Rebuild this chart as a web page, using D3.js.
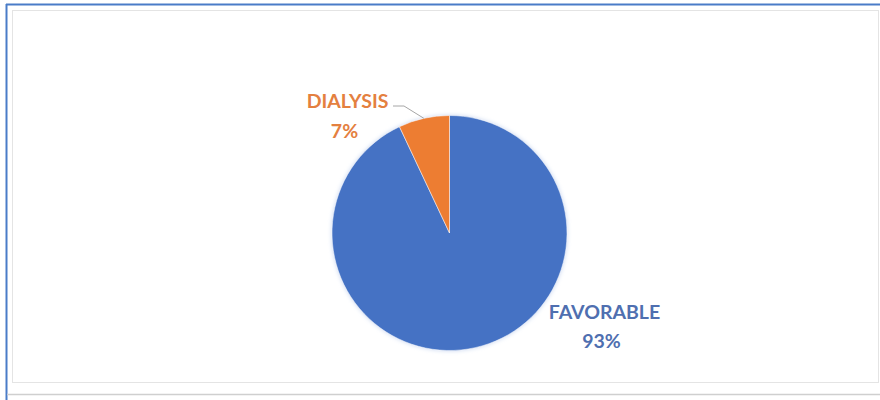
<!DOCTYPE html>
<html>
<head>
<meta charset="utf-8">
<script src="https://cdn.jsdelivr.net/npm/d3@7"></script>
<style>
  html, body { margin: 0; padding: 0; background: #fff; }
  svg { display: block; }
</style>
</head>
<body>
<svg id="chart" width="880" height="400"></svg>
<script>
// Outcome categories and their shares (percent)
const categories = ["FAVORABLE", "DIALYSIS"];
const values = [93, 7];
const colors = ["#4472C4", "#ED7D31"];

const W = 880, H = 400;
const svg = d3.select("#chart");

// Frame: blue outer edge on top/left, light grey chart-area border
svg.append("rect").attr("x", 0).attr("y", 0).attr("width", W).attr("height", H).attr("fill", "#fff");
svg.append("line").attr("x1", 6).attr("x2", 880).attr("y1", 4.5).attr("y2", 4.5)
  .attr("stroke", "#4a7cc8").attr("stroke-width", 2);
svg.append("line").attr("x1", 6.5).attr("x2", 6.5).attr("y1", 4).attr("y2", 400)
  .attr("stroke", "#4a7cc8").attr("stroke-width", 2);
svg.append("rect").attr("x", 12.5).attr("y", 10.5).attr("width", 866).attr("height", 372)
  .attr("fill", "none").attr("stroke", "#e4e4e4").attr("stroke-width", 1);
svg.append("line").attr("x1", 7).attr("x2", 880).attr("y1", 394.5).attr("y2", 394.5)
  .attr("stroke", "#cfcfcf").attr("stroke-width", 1.5);

const cx = 449.5, cy = 233, r = 117.5;

const pie = d3.pie().sort(null).value(d => d.value);
const arcs = pie(categories.map((c, i) => ({ name: c, value: values[i], color: colors[i] })));
const arc = d3.arc().innerRadius(0).outerRadius(r);

const defs = svg.append("defs");
const glow = defs.append("filter").attr("id", "soft").attr("x", "-20%").attr("y", "-20%")
  .attr("width", "140%").attr("height", "140%");
glow.append("feGaussianBlur").attr("in", "SourceAlpha").attr("stdDeviation", 2).attr("result", "b");
glow.append("feFlood").attr("flood-color", "#c9d6f0").attr("result", "c");
glow.append("feComposite").attr("in", "c").attr("in2", "b").attr("operator", "in").attr("result", "s");
const m = glow.append("feMerge");
m.append("feMergeNode").attr("in", "s");
m.append("feMergeNode").attr("in", "SourceGraphic");

const g = svg.append("g").attr("transform", `translate(${cx},${cy})`);
g.append("g").attr("filter", "url(#soft)")
  .selectAll("path").data(arcs).join("path")
  .attr("d", arc)
  .attr("fill", d => d.data.color)
  .attr("stroke", "#fff").attr("stroke-width", 0.5);

// Data labels (best-fit placement relative to the pie centre): [x, name baseline, value baseline]
const labelPos = { FAVORABLE: [155, 86, 115], DIALYSIS: [-102, -125, -95] };
const labelColor = { FAVORABLE: "#4F6FB0", DIALYSIS: "#E4803F" };
const fmt = d => Math.round(d.data.value) + "%";
arcs.forEach(d => {
  const [dx, y1, y2] = labelPos[d.data.name];
  const t = g.append("text")
    .attr("text-anchor", "middle")
    .attr("font-family", "Lato, 'Open Sans', sans-serif")
    .attr("font-weight", "bold")
    .attr("font-size", 19.5)
    .attr("fill", labelColor[d.data.name]);
  t.append("tspan").attr("x", dx).attr("y", y1).text(d.data.name);
  t.append("tspan").attr("x", dx - 3).attr("y", y2).text(fmt(d));
});

// Leader line for the small slice
const small = arcs[1];
const mid = (small.startAngle + small.endAngle) / 2;
const edge = [Math.sin(mid) * r, -Math.cos(mid) * r];
g.append("polyline")
  .attr("points", [[-56.5, -127], [-45.5, -127], edge].map(p => p.join(",")).join(" "))
  .attr("fill", "none").attr("stroke", "#a6a6a6").attr("stroke-width", 1);
</script>
</body>
</html>
